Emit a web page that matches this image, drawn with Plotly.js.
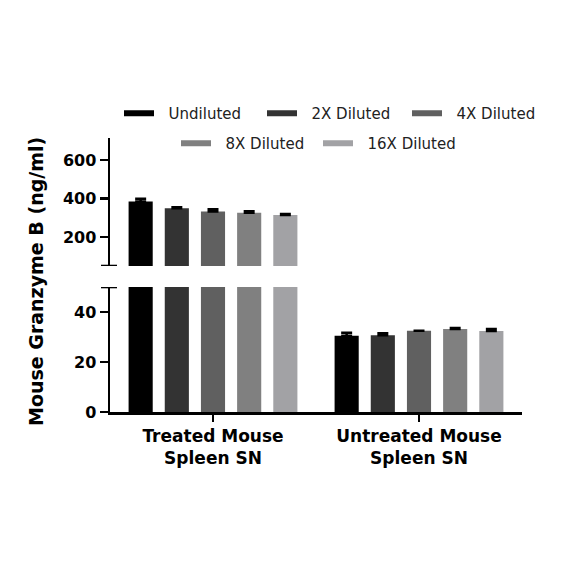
<!DOCTYPE html>
<html>
<head>
<meta charset="utf-8">
<script src="https://cdn.plot.ly/plotly-3.0.1.min.js"></script>
<style>html,body{margin:0;padding:0;background:#fff;}#chart{width:584px;height:584px;}</style>
</head>
<body>
<div id="chart"></div>
<script>
// ---- data ----
const categories = ['Treated Mouse<br>Spleen SN', 'Untreated Mouse<br>Spleen SN'];
const seriesNames = ['Undiluted', '2X Diluted', '4X Diluted', '8X Diluted', '16X Diluted'];
const undiluted = [385, 30.5];
const undilutedErr = [14, 1.2];
const diluted2x = [350, 30.7];
const diluted2xErr = [5, 0.8];
const diluted4x = [332, 32.5];
const diluted4xErr = [12, null];
const diluted8x = [326, 33.2];
const diluted8xErr = [8, 0.4];
const diluted16x = [315, 32.4];
const diluted16xErr = [5, 0.8];
const lowerTicks = [0, 20, 40];
const upperTicks = [200, 400, 600];

const seriesValues = [undiluted, diluted2x, diluted4x, diluted8x, diluted16x];
const seriesErrors = [undilutedErr, diluted2xErr, diluted4xErr, diluted8xErr, diluted16xErr];
const colors = ['#000000', '#333333', '#606060', '#808080', '#a2a2a5'];

const FONT = 'DejaVu Sans';
const traces = [];
['y', 'y2'].forEach(function (ax) {
  seriesValues.forEach(function (vals, i) {
    traces.push({
      type: 'bar', x: categories, y: vals, name: seriesNames[i],
      xaxis: 'x', yaxis: ax, showlegend: false,
      marker: {color: colors[i], line: {width: 0}},
      error_y: {type: 'data', array: seriesErrors[i],
                arrayminus: seriesErrors[i].map(function (e) { return e === null ? null : 0; }),
                symmetric: false, color: '#000', thickness: 2.5, width: 5.5},
      hoverinfo: 'skip'
    });
  });
});
// legend entries (line symbols), one legend box per entry
const legendIds = ['legend', 'legend2', 'legend3', 'legend4', 'legend5'];
seriesNames.forEach(function (n, i) {
  traces.push({
    type: 'scatter', mode: 'lines', x: [null], y: [null], name: '\u00a0\u00a0' + n,
    xaxis: 'x', yaxis: 'y', line: {color: colors[i], width: 6},
    legend: legendIds[i], showlegend: true
  });
});

const axisCommon = {
  showline: true, linecolor: '#000', linewidth: 2.5, ticks: 'outside', ticklen: 8, tickwidth: 2.5,
  tickcolor: '#000', showgrid: false, zeroline: false, fixedrange: true,
  tickfont: {family: FONT, size: 16, color: '#000', weight: 'bold'}
};
function legendAt(px, py) {
  return {
    orientation: 'h', xref: 'container', yref: 'container', xanchor: 'left', yanchor: 'top',
    x: px / 584, y: 1 - py / 584,
    bgcolor: 'rgba(0,0,0,0)', itemwidth: 30,
    font: {family: FONT, size: 15, color: '#222'}
  };
}

const layout = {
  width: 584, height: 584,
  margin: {l: 110, r: 62, t: 138, b: 172, autoexpand: false},
  paper_bgcolor: '#fff', plot_bgcolor: '#fff',
  barmode: 'group', bargap: 0.122, bargroupgap: 0.333,
  xaxis: Object.assign({}, axisCommon, {
    type: 'category', range: [-0.5, 1.5], anchor: 'y', ticklen: 7,
    tickfont: {family: FONT, size: 17, color: '#000', weight: 'bold'}
  }),
  yaxis: Object.assign({}, axisCommon, {domain: [0, 0.456], range: [0, 50], tickvals: lowerTicks, anchor: 'x'}),
  yaxis2: Object.assign({}, axisCommon, {domain: [0.533, 1], range: [50, 714], tickvals: upperTicks, anchor: 'x'}),
  legend: legendAt(119, 97),
  legend2: legendAt(262, 97),
  legend3: legendAt(407, 97),
  legend4: legendAt(176, 127),
  legend5: legendAt(318, 127),
  shapes: [
    {type: 'line', xref: 'paper', xsizemode: 'pixel', xanchor: 0, x0: -9, x1: 7, yref: 'y2', y0: 50, y1: 50, line: {color: '#000', width: 2.5}},
    {type: 'line', xref: 'paper', xsizemode: 'pixel', xanchor: 0, x0: -9, x1: 7, yref: 'y', y0: 50, y1: 50, line: {color: '#000', width: 2.5}}
  ],
  annotations: [{
    text: 'Mouse Granzyme B (ng/ml)', textangle: -90, showarrow: false,
    xref: 'paper', yref: 'paper', x: (36 - 110) / 412, y: (412 - 282) / 274,
    xanchor: 'center', yanchor: 'middle',
    font: {family: FONT, size: 19, color: '#000', weight: 'bold'}
  }]
};

Plotly.newPlot('chart', traces, layout, {displayModeBar: false, staticPlot: true});
</script>
</body>
</html>
